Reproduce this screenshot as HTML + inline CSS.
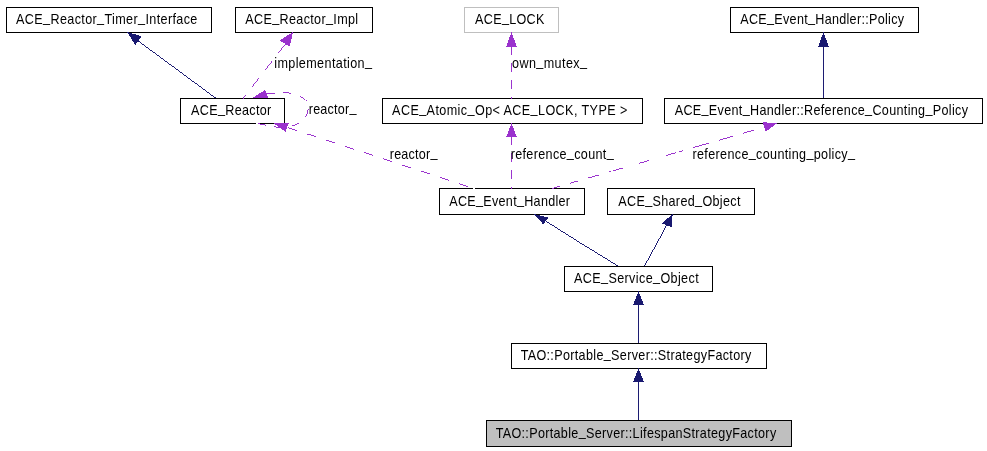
<!DOCTYPE html>
<html><head><meta charset="utf-8">
<style>
html,body{margin:0;padding:0;background:#fff;width:987px;height:451px;overflow:hidden}
svg{display:block;will-change:transform}
text{font-family:"Liberation Sans",sans-serif;font-size:14px;fill:#000}
.b{fill:#fff;stroke:#000;stroke-width:1}
.eb{stroke:#191970;stroke-width:0.99;fill:none}
.ep{stroke:#9a32cd;stroke-width:0.99;fill:none;stroke-dasharray:9 8}
.ab{fill:#191970;stroke:#191970;stroke-width:1}
.ap{fill:#9a32cd;stroke:#9a32cd;stroke-width:1}
</style></head><body>
<svg width="987" height="451" viewBox="0 0 987 451">
<g shape-rendering="crispEdges">
<rect class="b" x="6.5" y="7.5" width="205" height="25"/>
<rect class="b" x="235.5" y="7.5" width="137" height="25"/>
<rect class="b" x="464.5" y="7.5" width="94" height="25" style="stroke:#bfbfbf"/>
<rect class="b" x="730.5" y="7.5" width="188" height="25"/>
<rect class="b" x="180.5" y="98.5" width="104" height="25"/>
<rect class="b" x="382.5" y="98.5" width="260" height="25"/>
<rect class="b" x="664.5" y="98.5" width="318" height="25"/>
<rect class="b" x="439.5" y="188.5" width="145" height="26"/>
<rect class="b" x="607.5" y="188.5" width="147" height="26"/>
<rect class="b" x="564.5" y="266.5" width="148" height="25"/>
<rect class="b" x="511.5" y="343.5" width="255" height="25"/>
<rect class="b" x="486.5" y="420.5" width="305" height="26" style="fill:#bfbfbf"/>

<path class="eb" d="M215.5,98 L138,40.8"/>
<polygon class="ab" points="128.18,32.72 140.72,36.57 135.32,44.26"/>

<path class="ep" style="stroke-dasharray:11 10.5;stroke-dashoffset:6.5" d="M243,98.5 L285.5,44"/>
<polygon class="ap" points="292.35,32.95 280.57,40.59 289.50,45.83"/>

<path class="ep" style="stroke-dasharray:8.3 8.7;stroke-dashoffset:-1" d="M257.0,123.4 C258.00,123.60 260.83,124.17 263.00,124.60 C265.17,125.03 267.50,125.57 270.00,126.00 C272.50,126.43 275.00,127.03 278.00,127.20 C281.00,127.37 284.83,127.53 288.00,127.00 C291.17,126.47 294.42,125.17 297.00,124.00 C299.58,122.83 301.83,121.67 303.50,120.00 C305.17,118.33 306.20,116.08 307.00,114.00 C307.80,111.92 308.38,109.67 308.30,107.50 C308.22,105.33 307.72,102.75 306.50,101.00 C305.28,99.25 303.25,98.22 301.00,97.00 C298.75,95.78 295.83,94.45 293.00,93.70 C290.17,92.95 287.00,92.62 284.00,92.50 C281.00,92.38 278.00,92.78 275.00,93.00 C272.00,93.22 267.50,93.67 266.00,93.80"/>
<polygon class="ap" points="253.47,97.97 264.66,90.74 267.55,97.51"/>

<path class="ep" style="stroke-dasharray:9 8;stroke-dashoffset:7" d="M511.5,98.5 L511.5,46.5"/>
<polygon class="ap" points="511.50,33.39 506.93,46.20 516.07,46.20"/>

<path class="eb" d="M823.5,98 L823.5,46.5"/>
<polygon class="ab" points="823.50,33.39 818.93,46.20 828.07,46.20"/>

<path class="ep" style="stroke-dasharray:9.45 10.5;stroke-dashoffset:13.65" d="M474,188.5 L287,127.3"/>
<polygon class="ap" points="274.89,123.48 288.08,123.21 285.35,131.21"/>

<path class="ep" style="stroke-dasharray:9 8;stroke-dashoffset:7" d="M511.5,188.5 L511.5,137"/>
<polygon class="ap" points="511.50,124.36 506.93,136.70 516.07,136.70"/>

<path class="ep" style="stroke-dasharray:none" d="M552,188.50 L560,186.19 M570,183.29 L578,180.98 M588,178.09 L599,174.90 M609,172.01 L610.5,171.58 M613,170.85 L623,167.96 M639,163.33 L649,160.44 M666,155.52 L676,152.63 M679,151.76 L683,150.60 M693,147.71 L709,143.08 M719,140.19 L733,136.14 M743,133.24 L753.5,130.21"/>
<polygon class="ap" points="776.14,123.28 763.51,122.91 766.06,130.90"/>

<path class="eb" d="M618,266 Q580,243 545.6,221"/>
<polygon class="ab" points="535.10,214.65 547.40,217.98 543.27,223.72"/>

<path class="eb" d="M644.5,266 Q656,245 666.8,225"/>
<polygon class="ab" points="672.04,215.20 662.77,223.11 671.04,226.47"/>

<path class="eb" d="M638.5,343 L638.5,304.5"/>
<polygon class="ab" points="638.50,292.34 633.94,304.20 643.06,304.20"/>

<path class="eb" d="M638.5,420 L638.5,381.5"/>
<polygon class="ab" points="638.50,369.34 633.94,381.20 643.06,381.20"/>

<rect x="473" y="188" width="2" height="1" fill="#fff"/>
<rect x="256" y="123" width="2" height="1" fill="#fff"/>
</g>
<text transform="translate(16.11,24) scale(0.9,1)" x="0" y="0" textLength="201.38" lengthAdjust="spacing">ACE<tspan dy="-2">_</tspan><tspan dy="2">Reactor</tspan><tspan dy="-2">_</tspan><tspan dy="2">Timer</tspan><tspan dy="-2">_</tspan><tspan dy="2">Interface</tspan></text>
<text transform="translate(245.3,24) scale(0.9,1)" x="0" y="0" textLength="125.38" lengthAdjust="spacing">ACE<tspan dy="-2">_</tspan><tspan dy="2">Reactor</tspan><tspan dy="-2">_</tspan><tspan dy="2">Impl</tspan></text>
<text transform="translate(475.11,24) scale(0.9,1)" x="0" y="0" textLength="76.96" lengthAdjust="spacing">ACE<tspan dy="-2">_</tspan><tspan dy="2">LOCK</tspan></text>
<text transform="translate(740.3,24) scale(0.9,1)" x="0" y="0" textLength="181.91" lengthAdjust="spacing">ACE<tspan dy="-2">_</tspan><tspan dy="2">Event</tspan><tspan dy="-2">_</tspan><tspan dy="2">Handler::Policy</tspan></text>
<text transform="translate(191.04,115) scale(0.9,1)" x="0" y="0" textLength="89.2" lengthAdjust="spacing">ACE<tspan dy="-2">_</tspan><tspan dy="2">Reactor</tspan></text>
<text transform="translate(392.11,115) scale(0.9,1)" x="0" y="0" textLength="261.29" lengthAdjust="spacing">ACE<tspan dy="-2">_</tspan><tspan dy="2">Atomic</tspan><tspan dy="-2">_</tspan><tspan dy="2">Op&lt; ACE</tspan><tspan dy="-2">_</tspan><tspan dy="2">LOCK, TYPE &gt;</tspan></text>
<text transform="translate(674.67,115) scale(0.9,1)" x="0" y="0" textLength="325.94" lengthAdjust="spacing">ACE<tspan dy="-2">_</tspan><tspan dy="2">Event</tspan><tspan dy="-2">_</tspan><tspan dy="2">Handler::Reference</tspan><tspan dy="-2">_</tspan><tspan dy="2">Counting</tspan><tspan dy="-2">_</tspan><tspan dy="2">Policy</tspan></text>
<text transform="translate(449.3,206) scale(0.9,1)" x="0" y="0" textLength="134.19" lengthAdjust="spacing">ACE<tspan dy="-2">_</tspan><tspan dy="2">Event</tspan><tspan dy="-2">_</tspan><tspan dy="2">Handler</tspan></text>
<text transform="translate(618.3,206) scale(0.9,1)" x="0" y="0" textLength="135.7" lengthAdjust="spacing">ACE<tspan dy="-2">_</tspan><tspan dy="2">Shared</tspan><tspan dy="-2">_</tspan><tspan dy="2">Object</tspan></text>
<text transform="translate(574.04,283) scale(0.9,1)" x="0" y="0" textLength="138.47" lengthAdjust="spacing">ACE<tspan dy="-2">_</tspan><tspan dy="2">Service</tspan><tspan dy="-2">_</tspan><tspan dy="2">Object</tspan></text>
<text transform="translate(520.63,360) scale(0.9,1)" x="0" y="0" textLength="256.36" lengthAdjust="spacing">TAO::Portable<tspan dy="-2">_</tspan><tspan dy="2">Server::StrategyFactory</tspan></text>
<text transform="translate(495.63,438) scale(0.9,1)" x="0" y="0" textLength="311.73" lengthAdjust="spacing">TAO::Portable<tspan dy="-2">_</tspan><tspan dy="2">Server::LifespanStrategyFactory</tspan></text>
<text transform="translate(274.26,68) scale(0.9,1)" x="0" y="0" textLength="108.6" lengthAdjust="spacing">implementation<tspan dy="-2">_</tspan></text>
<text transform="translate(308.73,114) scale(0.9,1)" x="0" y="0" textLength="52.98" lengthAdjust="spacing">reactor<tspan dy="-2">_</tspan></text>
<text transform="translate(512.0,68) scale(0.9,1)" x="0" y="0" textLength="83.38" lengthAdjust="spacing">own<tspan dy="-2">_</tspan><tspan dy="2">mutex</tspan><tspan dy="-2">_</tspan></text>
<text transform="translate(389.73,159) scale(0.9,1)" x="0" y="0" textLength="52.98" lengthAdjust="spacing">reactor<tspan dy="-2">_</tspan></text>
<text transform="translate(510.67,159) scale(0.9,1)" x="0" y="0" textLength="114.47" lengthAdjust="spacing">reference<tspan dy="-2">_</tspan><tspan dy="2">count</tspan><tspan dy="-2">_</tspan></text>
<text transform="translate(692.49,159) scale(0.9,1)" x="0" y="0" textLength="180.57" lengthAdjust="spacing">reference<tspan dy="-2">_</tspan><tspan dy="2">counting</tspan><tspan dy="-2">_</tspan><tspan dy="2">policy</tspan><tspan dy="-2">_</tspan></text>
</svg>
</body></html>
